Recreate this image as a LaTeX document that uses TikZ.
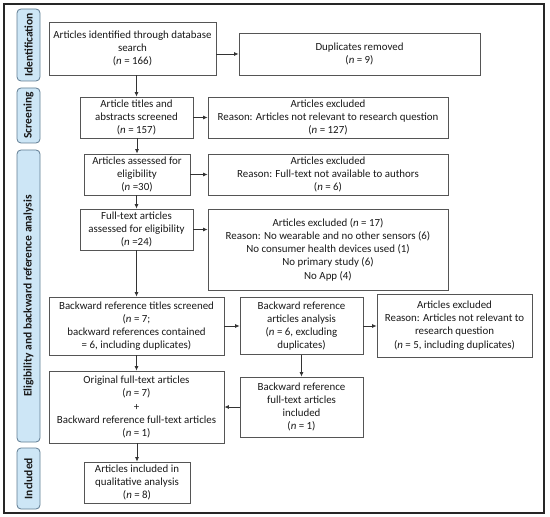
\documentclass[tikz,border=0pt]{standalone}
\usepackage{fontspec}
\setmainfont{Carlito}
\usetikzlibrary{arrows.meta}
\definecolor{sidefill}{HTML}{CDE6F6}
\definecolor{sidedraw}{HTML}{5F7C92}
\definecolor{boxdraw}{HTML}{555555}
\newcommand{\nn}{\textit{n}}
\begin{document}
\begin{tikzpicture}[x=1bp,y=-1bp,
  box/.style={draw=boxdraw, line width=0.8bp, fill=white, align=center, inner sep=0pt,
    font=\fontsize{10.9bp}{13.2bp}\selectfont, text=black!90},
  side/.style={draw=sidedraw, line width=0.8bp, fill=sidefill, rounded corners=4bp, rotate=90,
    inner sep=0pt, font=\bfseries\fontsize{11.5bp}{13bp}\selectfont, text=black!90},
  arr/.style={draw=black!80, line width=0.8bp, -{Latex[length=4.5bp,width=4bp]}}]
\useasboundingbox (0,0) rectangle (550,517);
\draw[line width=1.2bp, black!85] (4,4) rectangle (544,513);
% side labels
\node[side, minimum width=72bp, minimum height=23bp] (s1) at (28.5,45) {Identification};
\node[side, minimum width=55bp, minimum height=23bp] (s2) at (28.5,115.5) {Screening};
\node[side, minimum width=292bp, minimum height=23bp] (s3) at (28.5,296) {Eligibility and backward reference analysis};
\node[side, minimum width=61bp, minimum height=23bp] (s4) at (28.5,478.5) {Included};
% boxes
\node[box, minimum width=167bp, minimum height=53bp] (b1) at (132.5,48.5) {Articles identified through database\\search\\(\nn{} = 166)};
\node[box, minimum width=241bp, minimum height=42bp] (b2) at (359.5,54) {Duplicates removed\\(\nn{} = 9)};
\node[box, minimum width=113bp, minimum height=41bp] (b3) at (136.5,117.5) {Article titles and\\abstracts screened\\(\nn{} = 157)};
\node[box, minimum width=240bp, minimum height=41bp] (b4) at (328,117.5) {Articles excluded\\Reason: Articles not relevant to research question\\(\nn{} = 127)};
\node[box, minimum width=106bp, minimum height=41bp] (b5) at (137,174.5) {Articles assessed for\\eligibility\\(\nn{} =30)};
\node[box, minimum width=240bp, minimum height=41bp] (b6) at (328,174.5) {Articles excluded\\Reason: Full-text not available to authors\\(\nn{} = 6)};
\node[box, minimum width=113bp, minimum height=41bp] (b7) at (136.5,229.5) {Full-text articles\\assessed for eligibility\\(\nn{} =24)};
\node[box, minimum width=240bp, minimum height=81bp] (b8) at (328,249.5) {Articles excluded (\nn{} = 17)\\Reason: No wearable and no other sensors (6)\\No consumer health devices used (1)\\No primary study (6)\\No App (4)};
\node[box, minimum width=175bp, minimum height=58bp] (b9) at (136.5,326) {Backward reference titles screened\\(\nn{} = 7;\\backward references contained\\= 6, including duplicates)};
\node[box, minimum width=123bp, minimum height=57bp] (b10) at (301.5,326) {Backward reference\\articles analysis\\(\nn{} = 6, excluding\\duplicates)};
\node[box, minimum width=155bp, minimum height=63bp] (b11) at (454.5,325.5) {Articles excluded\\Reason: Articles not relevant to\\research question\\(\nn{} = 5, including duplicates)};
\node[box, minimum width=175bp, minimum height=72bp] (b12) at (136.5,407) {Original full-text articles\\(\nn{} = 7)\\+\\Backward reference full-text articles\\(\nn{} = 1)};
\node[box, minimum width=123bp, minimum height=60bp] (b13) at (301.5,407) {Backward reference\\full-text articles\\included\\(\nn{} = 1)};
\node[box, minimum width=106bp, minimum height=41bp] (b14) at (137,482.5) {Articles included in\\qualitative analysis\\(\nn{} = 8)};
% arrows
\draw[arr] (b1.east |- b2.west) -- (b2.west);
\draw[arr] (b1.south -| b3.north) -- (b3.north);
\draw[arr] (b3.east) -- (b4.west);
\draw[arr] (b3.south -| b5.north) -- (b5.north);
\draw[arr] (b5.east) -- (b5.east -| b6.west);
\draw[arr] (b5.south -| b7.north) -- (b7.north);
\draw[arr] (b7.east) -- (b7.east -| b8.west);
\draw[arr] (b7.south) -- (b9.north);
\draw[arr] (b9.east) -- (b10.west);
\draw[arr] (b10.east) -- (b10.east -| b11.west);
\draw[arr] (b10.south) -- (b13.north);
\draw[arr] (b13.west) -- (b12.east);
\draw[arr] (b9.south) -- (b12.north);
\draw[arr] (b12.south -| b14.north) -- (b14.north);
\end{tikzpicture}
\end{document}
